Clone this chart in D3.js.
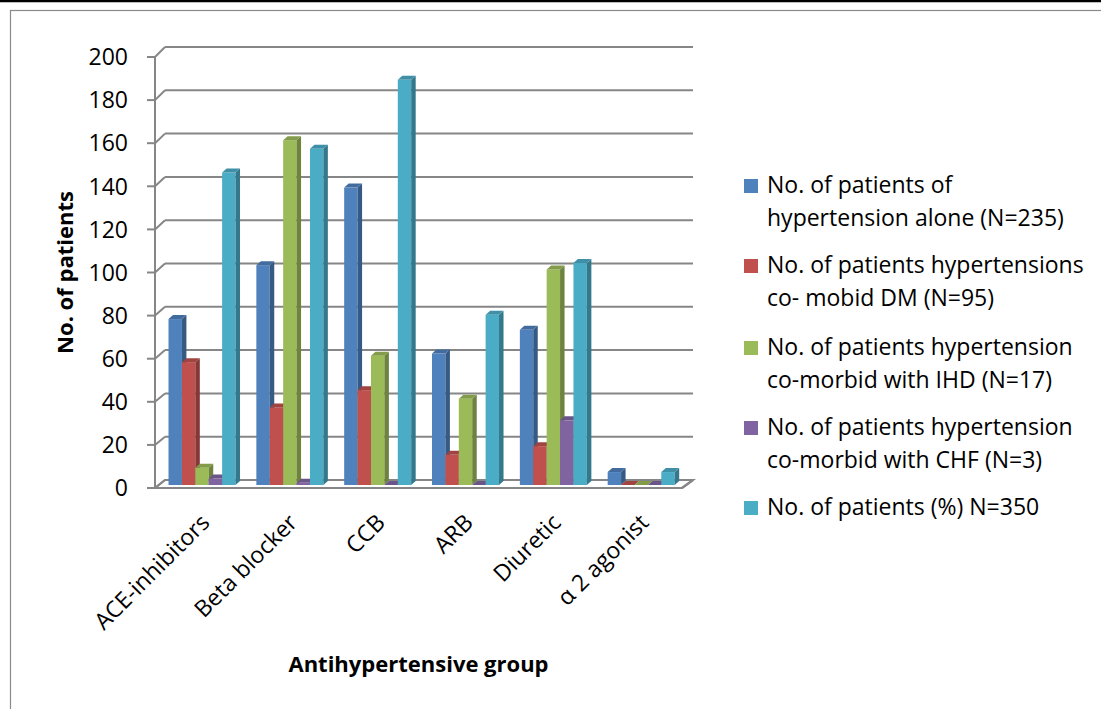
<!DOCTYPE html>
<html>
<head>
<meta charset="utf-8">
<script src="https://cdn.jsdelivr.net/npm/d3@7"></script>
<style>
  html, body { margin: 0; padding: 0; background: #fff; }
  svg { display: block; }
  text { font-family: "Open Sans", "Liberation Sans", sans-serif; fill: #000; }
</style>
</head>
<body>
<svg id="chart" width="1101" height="709"></svg>
<script>
// ---- data ----
const categories = ["ACE-inhibitors", "Beta blocker", "CCB", "ARB", "Diuretic", "α 2 agonist"];
const seriesNames = [
  ["No. of patients of", "hypertension alone (N=235)"],
  ["No. of patients hypertensions", "co- mobid DM (N=95)"],
  ["No. of patients hypertension", "co-morbid with IHD (N=17)"],
  ["No. of patients hypertension", "co-morbid with CHF (N=3)"],
  ["No. of patients (%) N=350"]
];
const hypAlone = [77, 102, 138, 61, 72, 6];
const hypDM    = [57, 36, 44, 14, 18, 0];
const hypIHD   = [8, 160, 60, 40, 100, 0];
const hypCHF   = [3, 1, 0, 0, 30, 0];
const totalPct = [145, 156, 188, 79, 103, 6];
const yTicks = [0, 20, 40, 60, 80, 100, 120, 140, 160, 180, 200];
const colors = ["#4F81BD", "#C0504D", "#9BBB59", "#8064A2", "#4BACC6"];
const seriesValues = [hypAlone, hypDM, hypIHD, hypCHF, totalPct];

const svg = d3.select("#chart");

// frame
svg.append("line").attr("x1", 0).attr("x2", 1101).attr("y1", 1).attr("y2", 1)
  .attr("stroke", "#000").attr("stroke-width", 2.5);
svg.append("rect").attr("x", 10.5).attr("y", 10.5).attr("width", 1100).attr("height", 710)
  .attr("fill", "none").attr("stroke", "#8a8a8a").attr("stroke-width", 1.2);

// scales
const yFront = d3.scaleLinear().domain([0, 200]).range([488, 57]);
const yBack  = d3.scaleLinear().domain([0, 200]).range([480, 47]);
const yBar   = d3.scaleLinear().domain([0, 200]).range([485, 54]);
const x = d3.scaleBand().domain(categories).range([155, 682]);
const bw = x.bandwidth();
const xs = d3.scaleBand().domain(d3.range(5)).range([bw * 0.114 + 3.5, bw * 0.877 + 3.5]);
const backDX = 10;
const gridColor = "#868686";
const fs = 23, fsTitle = 22;

// floor
const floor = svg.append("g");
floor.append("path")
  .attr("d", `M155,${yFront(0)} L682,${yFront(0)} L${682 + 11},${yBack(0)} L${155 + backDX},${yBack(0)} Z`)
  .attr("fill", "#fff").attr("stroke", gridColor).attr("stroke-width", 2);

// grid (back wall) and side wall diagonals
const grid = svg.append("g");
yTicks.forEach(v => {
  grid.append("line").attr("x1", 155 + backDX).attr("x2", 693)
    .attr("y1", yBack(v)).attr("y2", yBack(v))
    .attr("stroke", gridColor).attr("stroke-width", 2);
  grid.append("line").attr("x1", 155).attr("x2", 155 + backDX)
    .attr("y1", yFront(v)).attr("y2", yBack(v))
    .attr("stroke", gridColor).attr("stroke-width", 2);
  grid.append("line").attr("x1", 147).attr("x2", 155)
    .attr("y1", yFront(v)).attr("y2", yFront(v))
    .attr("stroke", gridColor).attr("stroke-width", 2);
});
grid.append("line").attr("x1", 155).attr("x2", 155)
  .attr("y1", yFront(200)).attr("y2", yFront(0))
  .attr("stroke", gridColor).attr("stroke-width", 2);
grid.append("line").attr("x1", 155).attr("x2", 682)
  .attr("y1", yFront(0)).attr("y2", yFront(0))
  .attr("stroke", gridColor).attr("stroke-width", 2.2);
grid.append("line").attr("x1", 682).attr("x2", 693)
  .attr("y1", yFront(0)).attr("y2", yBack(0))
  .attr("stroke", gridColor).attr("stroke-width", 2.2);

// tick labels
svg.append("g").selectAll("text").data(yTicks).join("text")
  .attr("x", 128).attr("y", d => yFront(d)).attr("dy", "0.36em")
  .attr("text-anchor", "end").attr("font-size", fs).text(d => d);

// bars (3D)
const dD = 4.5, dH = -4;
const bars = svg.append("g");
categories.forEach((c, ci) => {
  seriesValues.forEach((vals, si) => {
    const v = vals[ci];
    const x0 = x(c) + xs(si);
    const w = xs.bandwidth();
    const yb = yBar(0), yt = yBar(v);
    const col = d3.color(colors[si]);
    bars.append("rect").attr("x", x0).attr("y", yt).attr("width", w).attr("height", yb - yt)
      .attr("fill", colors[si]);
    bars.append("path")
      .attr("d", `M${x0 + w},${yb} L${x0 + w + dD},${yb + dH} L${x0 + w + dD},${yt + dH} L${x0 + w},${yt} Z`)
      .attr("fill", col.darker(1.0));
    bars.append("path")
      .attr("d", `M${x0},${yt} L${x0 + dD},${yt + dH} L${x0 + w + dD},${yt + dH} L${x0 + w},${yt} Z`)
      .attr("fill", col.darker(0.5));
  });
});

// category labels
svg.append("g").selectAll("text").data(categories).join("text")
  .attr("transform", d => `translate(${x(d) + bw / 2 + 12},${524}) rotate(-45)`)
  .attr("text-anchor", "end").attr("font-size", fs).text(d => d);

// axis titles
svg.append("text").attr("transform", `translate(73,${(yFront(0) + yFront(200)) / 2}) rotate(-90)`)
  .attr("text-anchor", "middle").attr("font-size", fsTitle).attr("font-weight", "bold")
  .text("No. of patients");
svg.append("text").attr("x", (155 + 682) / 2).attr("y", 672)
  .attr("text-anchor", "middle").attr("font-size", fsTitle).attr("font-weight", "bold")
  .text("Antihypertensive group");

// legend
const legendTop = [193, 273, 355, 435, 515];
const lg = svg.append("g");
seriesNames.forEach((lines, i) => {
  lg.append("rect").attr("x", 744).attr("y", legendTop[i] - 14).attr("width", 14).attr("height", 14)
    .attr("fill", colors[i]);
  lines.forEach((t, j) => {
    lg.append("text").attr("x", 767).attr("y", legendTop[i] + j * 33)
      .attr("font-size", fs).text(t);
  });
});
</script>
</body>
</html>
